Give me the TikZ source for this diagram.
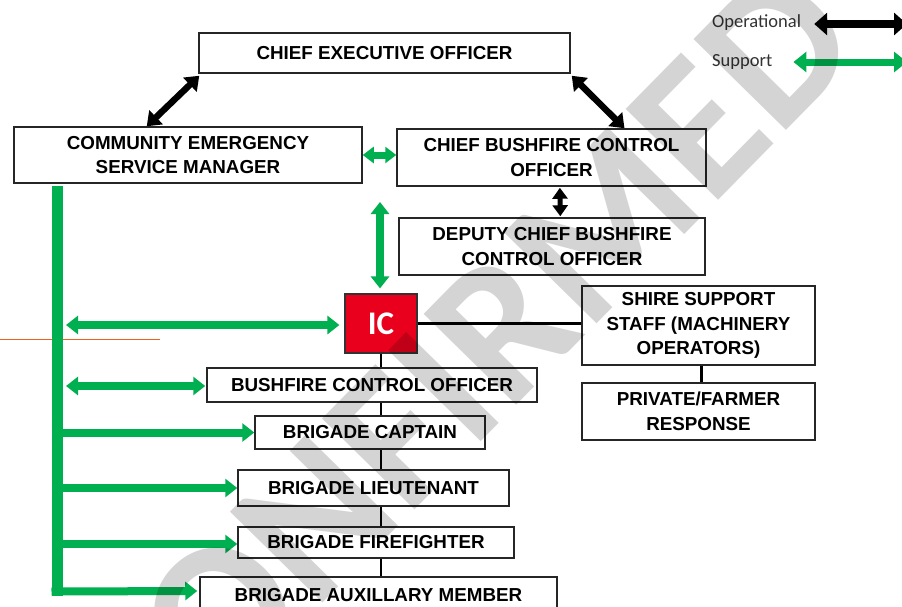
\documentclass[tikz,border=0pt]{standalone}
\usepackage{fontspec}
\setmainfont{Liberation Sans}
\newfontfamily\calib{Carlito}
\usetikzlibrary{arrows.meta,calc}
\definecolor{supgreen}{RGB}{0,176,80}
\definecolor{icred}{RGB}{232,0,28}
\definecolor{guide}{RGB}{240,96,36}
\begin{document}
\begin{tikzpicture}[x=1pt,y=-1pt,
  box/.style={draw=black!85, line width=1.5pt, fill=white, inner sep=0pt,
    align=center, font=\bfseries\fontsize{18.8}{24.5}\selectfont},
  optip/.tip={Triangle[width=19pt,length=13pt]},
  suptip/.tip={Triangle[width=18pt,length=12pt]},
  oparrow/.style={draw=black, line width=6.5pt, optip-optip},
  suparrow/.style={draw=supgreen, line width=8pt, suptip-suptip},
  supone/.style={draw=supgreen, line width=8pt, -suptip},
  link/.style={draw=black, line width=2.2pt},
  legendtext/.style={anchor=west, inner sep=0pt, text=black!80,
    font=\calib\fontsize{18.5}{20}\selectfont}]

\useasboundingbox (0,0) rectangle (902,606);
\clip (0,0) rectangle (902,606);
\fill[white] (0,0) rectangle (902,606);

% thin guide line on the left
\draw[guide, line width=1.6pt] (0,339.5) -- (160,339.5);

% green support trunk
\coordinate (trunktop) at (57,186);
\coordinate (trunkbot) at (57,596);
\draw[supgreen, line width=11pt] (trunktop) -- (trunkbot);

% boxes
\node[box, minimum width=371pt, minimum height=40pt] (ceo) at (384.5,53) {CHIEF EXECUTIVE OFFICER};
\node[box, minimum width=348pt, minimum height=56pt] (cesm) at (188,155) {COMMUNITY EMERGENCY\\SERVICE MANAGER};
\node[box, minimum width=309pt, minimum height=57pt] (cbco) at (551.5,157.5) {CHIEF BUSHFIRE CONTROL\\OFFICER};
\node[box, minimum width=306pt, minimum height=57pt] (dcbco) at (552,246.5) {DEPUTY CHIEF BUSHFIRE\\CONTROL OFFICER};
\node[draw=black!80, line width=1.2pt, fill=icred, minimum width=72pt, minimum height=59pt,
  inner sep=0pt, text=white, font=\calib\bfseries\fontsize{33}{36}\selectfont] (ic) at (381,323.5) {IC};
\node[box, minimum width=233pt, minimum height=79pt] (shire) at (698.5,325.5) {SHIRE SUPPORT\\STAFF (MACHINERY\\OPERATORS)};
\node[box, minimum width=233pt, minimum height=57pt] (private) at (698.5,411.5) {PRIVATE/FARMER\\RESPONSE};
\node[box, minimum width=330pt, minimum height=34pt] (bco) at (372,385) {BUSHFIRE CONTROL OFFICER};
\node[box, minimum width=230pt, minimum height=33pt] (capt) at (370,432.5) {BRIGADE CAPTAIN};
\node[box, minimum width=271pt, minimum height=36pt] (lieut) at (373.5,488) {BRIGADE LIEUTENANT};
\node[box, minimum width=276pt, minimum height=31pt] (ff) at (376,542.5) {BRIGADE FIREFIGHTER};
\node[box, minimum width=357pt, minimum height=36pt] (aux) at (378.5,595) {BRIGADE AUXILLARY MEMBER};

% operational chain below IC
\draw[link] (ic.south) -- (ic.south |- bco.north);
\draw[link] (ic.south |- bco.south) -- (ic.south |- capt.north);
\draw[link] (ic.south |- capt.south) -- (ic.south |- lieut.north);
\draw[link] (ic.south |- lieut.south) -- (ic.south |- ff.north);
\draw[link] (ic.south |- ff.south) -- (ic.south |- aux.north);
\draw[link] (ic.east) -- (ic.east -| shire.west);
\draw[link] ($(shire.south)+(3,0)$) -- ($(private.north)+(3,0)$);

% operational arrows
\draw[oparrow] ($(ceo.south west)+(1,2)$) -- ($(cesm.north west)!0.382!(cesm.north east)$);
\draw[oparrow] ($(ceo.south east)+(1,2)$) -- ($(cbco.north west)!0.735!(cbco.north east)$);
\draw[draw=black, line width=5pt, {Triangle[width=15pt,length=11pt]}-{Triangle[width=15pt,length=11pt]}]
  ($(cbco.south west)!0.527!(cbco.south east)+(0,1)$) -- ($(dcbco.north west)!0.527!(dcbco.north east)+(0,-1)$);

% support arrows
\draw[draw=supgreen, line width=7pt, {Triangle[width=16pt,length=11pt]}-{Triangle[width=16pt,length=11pt]}]
  (cesm.east) -- (cesm.east -| cbco.west);
\coordinate (vtop) at (380,202);
\draw[suparrow] (vtop) -- ($(ic.north)+(-1,-5)$);
\coordinate (icbranch) at (66,325);
\draw[suparrow] (icbranch) -- ($(ic.west)+(-5,1.5)$);
\coordinate (bcobranch) at (66,386);
\draw[suparrow] (bcobranch) -- ($(bco.west)+(-1,1)$);
\draw[supone] (trunktop |- capt.west) -- (capt.west);
\draw[supone] (trunktop |- lieut.west) -- (lieut.west);
\draw[supone] ($(trunktop |- ff.west)+(0,1.5)$) -- ($(ff.west)+(0,1.5)$);
\draw[supone] ($(trunkbot)+(-5.5,-4.5)$) -- ($(aux.west)+(-2,-4)$);

% legend
\node[legendtext] (oplabel) at (712,23) {Operational};
\node[legendtext] (suplabel) at (712,62) {Support};
\coordinate (opend) at (907,24);
\coordinate (supend) at (907,62);
\draw[draw=black, line width=8pt, {Triangle[width=22pt,length=13pt]}-{Triangle[width=22pt,length=13pt]}]
  ($(oplabel.east)+(13,1)$) -- (opend);
\draw[draw=supgreen, line width=7pt, {Triangle[width=20pt,length=13pt]}-{Triangle[width=20pt,length=13pt]}]
  ($(suplabel.east)+(21,0)$) -- (supend);

% watermark across the chart
\node[rotate=45.5, anchor=base east, inner sep=0pt, text=black, text opacity=0.17,
  font=\calib\bfseries\fontsize{200}{200}\selectfont] (mark) at (867,49) {UNCONFIRMED};
\end{tikzpicture}
\end{document}
